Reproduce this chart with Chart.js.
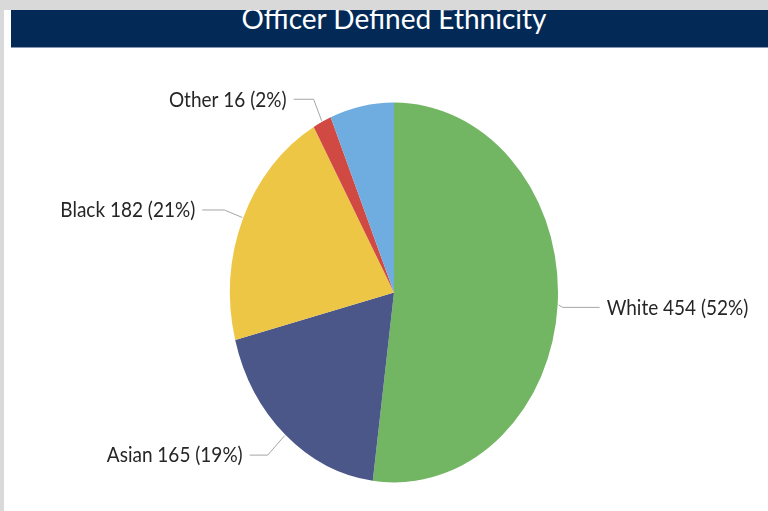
<!DOCTYPE html>
<html>
<head>
<meta charset="utf-8">
<script src="https://cdn.jsdelivr.net/npm/chart.js@4.4.1/dist/chart.umd.min.js"></script>
<style>
  html, body { margin: 0; padding: 0; }
  body { width: 768px; height: 511px; background: #d9d9d9; position: relative; overflow: hidden; }
  #panel { position: absolute; left: 4px; top: 10px; right: 0; bottom: 0; background: #ffffff; }
  #header { position: absolute; left: 11px; top: 10px; width: 757px; height: 37px; background: #032a57;
            border-bottom: 1px solid #8797b0; overflow: hidden; }
  #title { position: absolute; left: 383px; top: -6px; white-space: nowrap; color: #ffffff;
           font-family: Lato, "Open Sans", sans-serif; font-size: 28px; line-height: 28px;
           transform: translateX(-50%); }
  #chart { position: absolute; left: 0; top: 0; }
</style>
</head>
<body>
<div id="panel"></div>
<div id="header"><div id="title">Officer Defined Ethnicity</div></div>
<canvas id="chart" width="768" height="511"></canvas>
<script>
// ---- data ----
const categories = ['White', 'Asian', 'Black', 'Other', 'Not Stated'];
const counts = [454, 165, 182, 16, 55];
const showLabel = [true, true, true, true, false];

// ---- styles ----
const sliceColors = ['#72b663', '#4b5788', '#edc646', '#d04a43', '#6fade1'];
const STRETCH_Y = 1.158;                 // vertical stretch of the original picture
// label text anchor offsets from the slice's edge point, and leader horizontal length (layout only)
const labelOffsets = [[48, 3], [-42, 20], [-47, -7], [-35, -21], null];
const leaderRun = [37, 18, 22, 20, 0];

const total = counts.reduce((a, b) => a + b, 0);
const labelTexts = categories.map((c, i) => `${c} ${counts[i]} (${Math.round(counts[i] / total * 100)}%)`);

const stretchPlugin = {
  id: 'stretch',
  beforeDatasetsDraw(chart) {
    const arc = chart.getDatasetMeta(0).data[0];
    const ctx = chart.ctx;
    ctx.save();
    ctx.translate(arc.x, arc.y);
    ctx.scale(1, STRETCH_Y);
    ctx.translate(-arc.x, -arc.y);
  },
  afterDatasetsDraw(chart) {
    chart.ctx.restore();
  }
};

const labelPlugin = {
  id: 'sliceLabels',
  afterDatasetsDraw(chart) {
    const ctx = chart.ctx;
    const arcs = chart.getDatasetMeta(0).data;
    arcs.forEach((arc, i) => {
      if (!showLabel[i] || !labelOffsets[i]) return;
      const mid = (arc.startAngle + arc.endAngle) / 2;
      const r = arc.outerRadius + 1;
      const px = arc.x + r * Math.cos(mid);
      const py = arc.y + r * STRETCH_Y * Math.sin(mid);
      const tx = px + labelOffsets[i][0];
      const ty = py + labelOffsets[i][1];
      const side = labelOffsets[i][0] >= 0 ? 1 : -1;
      const gap = 7;
      const hx = tx - side * gap;
      const ex = hx - side * leaderRun[i];
      ctx.save();
      ctx.strokeStyle = '#a6a6a6';
      ctx.lineWidth = 1;
      ctx.beginPath();
      ctx.moveTo(hx, ty - 0.5);
      ctx.lineTo(ex, ty - 0.5);
      ctx.lineTo(px, py);
      ctx.stroke();
      ctx.font = '19px Lato, "Open Sans", sans-serif';
      ctx.fillStyle = '#262626';
      ctx.textAlign = side > 0 ? 'left' : 'right';
      ctx.textBaseline = 'middle';
      ctx.translate(tx, ty);
      ctx.scale(1, 1.1);
      ctx.fillText(labelTexts[i], 0, 0);
      ctx.restore();
    });
  }
};

new Chart(document.getElementById('chart'), {
  type: 'pie',
  data: {
    labels: categories,
    datasets: [{
      data: counts,
      backgroundColor: sliceColors,
      borderWidth: 0,
      hoverOffset: 0
    }]
  },
  options: {
    responsive: false,
    devicePixelRatio: 1,
    animation: false,
    layout: { padding: { left: 230, right: 210, top: 128.5, bottom: 54.5 } },
    plugins: { legend: { display: false }, tooltip: { enabled: false }, title: { display: false } }
  },
  plugins: [stretchPlugin, labelPlugin]
});
</script>
</body>
</html>
